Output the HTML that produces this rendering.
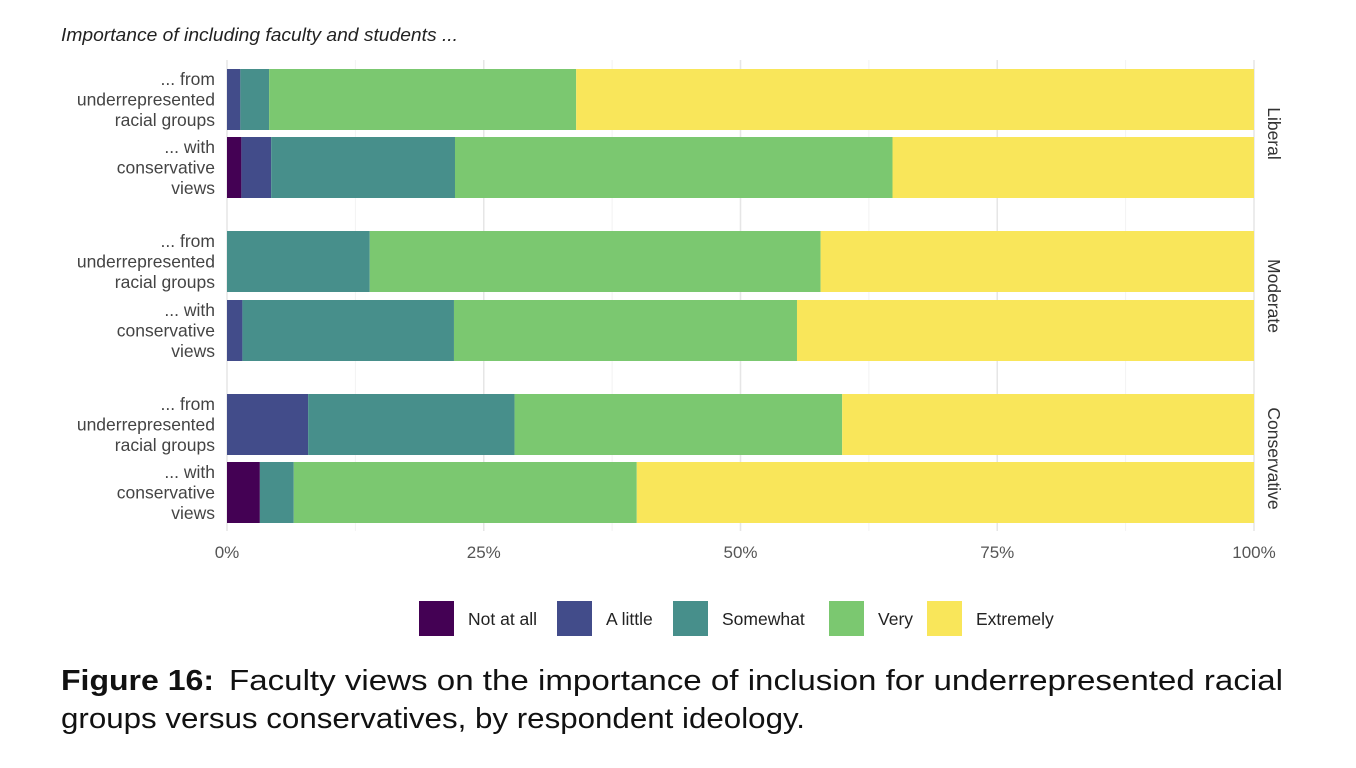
<!DOCTYPE html>
<html><head><meta charset="utf-8"><style>
body{margin:0;background:#fff;width:1356px;height:763px;overflow:hidden;font-family:"Liberation Sans",sans-serif}
</style></head><body>
<svg id="chart" width="1356" height="763" xmlns="http://www.w3.org/2000/svg">
<text x="61" y="41" font-size="18" font-style="italic" fill="#222" font-family="Liberation Sans, sans-serif" textLength="397" lengthAdjust="spacingAndGlyphs">Importance of including faculty and students ...</text>
<g id="grid"></g><g id="bars"></g><g id="labels"></g>
<g id="legend"></g>
<text x="61" y="690" font-size="29" font-weight="bold" fill="#111" font-family="Liberation Sans, sans-serif" textLength="153" lengthAdjust="spacingAndGlyphs">Figure 16:</text>
<text x="229" y="690" font-size="29" fill="#111" font-family="Liberation Sans, sans-serif" textLength="1054" lengthAdjust="spacingAndGlyphs">Faculty views on the importance of inclusion for underrepresented racial</text>
<text x="61" y="728" font-size="29" fill="#111" font-family="Liberation Sans, sans-serif" textLength="744" lengthAdjust="spacingAndGlyphs">groups versus conservatives, by respondent ideology.</text>
</svg>
<script>
const categories=["Not at all","A little","Somewhat","Very","Extremely"];
const colors=["#440154","#424c8a","#478f8b","#7bc870","#f9e65a"];
const panels=["Liberal","Moderate","Conservative"];
const rowLabels=[["... from","underrepresented","racial groups"],["... with","conservative","views"]];
const notAtAll=[0,1.4,0,0,0,3.2];
const aLittle=[1.3,2.9,0,1.5,7.9,0];
const somewhat=[2.8,17.9,13.9,20.6,20.1,3.3];
const very=[29.9,42.6,43.9,33.4,31.9,33.4];
const ticks=[0,25,50,75,100];
const tickLabels=["0%","25%","50%","75%","100%"];
const NS="http://www.w3.org/2000/svg";
const x0=227,x1=1254;
const xs=v=>x0+(x1-x0)*v/100;
const rowTop=[69,137,231,300,394,462],barH=61;
function mk(t,a,p){const e=document.createElementNS(NS,t);for(const k in a)e.setAttribute(k,a[k]);p.appendChild(e);return e;}
const grid=document.getElementById('grid'),bars=document.getElementById('bars'),labels=document.getElementById('labels'),legend=document.getElementById('legend');
for(let v=0;v<=100;v+=12.5){
  const l=mk('line',{x1:xs(v),x2:xs(v),y1:60,y2:531,stroke:v%25===0?'#e6e6e6':'#f2f2f2','stroke-width':v%25===0?1.5:1},grid);
  
  
}
ticks.forEach((t,i)=>{const e=mk('text',{x:xs(t),y:558,'font-size':17,fill:'#555','text-anchor':'middle'},labels);e.textContent=tickLabels[i];
  
  });
const series=[notAtAll,aLittle,somewhat,very];
for(let r=0;r<6;r++){
  let acc=0;
  for(let s=0;s<5;s++){
    const v=s<4?series[s][r]:100-acc;
    if(v>0){const b=mk('rect',{x:xs(acc),y:rowTop[r],width:xs(acc+v)-xs(acc),height:barH,fill:colors[s]},bars);
      
      }
    acc+=v;
  }
  rowLabels[r%2].forEach((ln,j)=>{const e=mk('text',{x:215,y:rowTop[r]+16+j*20.5,'font-size':17.5,fill:'#444','text-anchor':'end'},labels);e.textContent=ln;
    
    });
}
panels.forEach((p,i)=>{const cy=(rowTop[i*2]+rowTop[i*2+1]+barH)/2;
  const e=mk('text',{x:1268,y:cy,'font-size':17.5,fill:'#333','text-anchor':'middle',transform:`rotate(90 1268 ${cy})`},labels);e.textContent=p;
  
  });
const lx=[419,557,673,829,927];
categories.forEach((c,i)=>{
  const r=mk('rect',{x:lx[i],y:601,width:35,height:35,fill:colors[i]},legend);
  
  
  const t=mk('text',{x:lx[i]+49,y:625,'font-size':17.5,fill:'#222'},legend);t.textContent=c;
  
  
});
</script>
</body></html>
